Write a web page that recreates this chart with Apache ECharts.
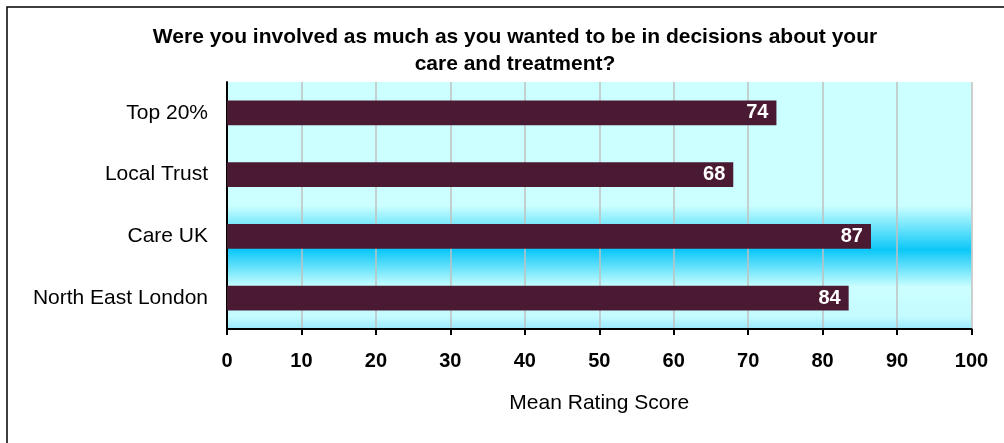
<!DOCTYPE html>
<html>
<head>
<meta charset="utf-8">
<script src="https://cdn.jsdelivr.net/npm/echarts@6/dist/echarts.min.js"></script>
<style>
html,body{margin:0;padding:0;background:#fff;}
#chart{width:1004px;height:443px;}
</style>
</head>
<body>
<div id="chart"></div>
<script>
var titleText = 'Were you involved as much as you wanted to be in decisions about your\ncare and treatment?';
var categories = ['Top 20%', 'Local Trust', 'Care UK', 'North East London'];
var scores = [73.8, 68, 86.5, 83.5];
var xTicks = [0, 10, 20, 30, 40, 50, 60, 70, 80, 90, 100];
var xAxisName = 'Mean Rating Score';

var FONT = '"Liberation Sans", Arial, sans-serif';
var chart = echarts.init(document.getElementById('chart'), null, {renderer: 'canvas'});
chart.setOption({
  animation: false,
  backgroundColor: '#ffffff',
  title: {
    text: titleText,
    left: 510,
    textAlign: 'center',
    top: 19,
    textStyle: {fontFamily: FONT, fontSize: 21, fontWeight: 'bold', color: '#000', lineHeight: 27}
  },
  graphic: [{
    type: 'rect',
    silent: true,
    shape: {x: 7, y: 7, width: 1100, height: 1100},
    style: {fill: 'none', stroke: '#000', lineWidth: 1.5},
    z: 100
  }],
  grid: {
    left: 227, right: 32.5, top: 82, bottom: 114,
    show: true,
    borderWidth: 0,
    backgroundColor: {
      type: 'linear', x: 0, y: 0, x2: 0, y2: 1,
      colorStops: [
        {offset: 0, color: '#ccffff'},
        {offset: 0.5, color: '#ccffff'},
        {offset: 0.68, color: '#0cc8f8'},
        {offset: 0.83, color: '#ccffff'},
        {offset: 0.95, color: '#c4fbff'},
        {offset: 1, color: '#99e8ff'}
      ]
    }
  },
  xAxis: {
    type: 'value',
    min: 0, max: 100, interval: 10,
    name: xAxisName,
    nameLocation: 'middle',
    nameGap: 64,
    nameTextStyle: {fontFamily: FONT, fontSize: 21, color: '#000'},
    axisLine: {show: true, lineStyle: {color: '#000', width: 2}},
    axisTick: {show: true, length: 6, lineStyle: {color: '#000', width: 2}},
    axisLabel: {
      fontFamily: FONT, fontSize: 20, fontWeight: 'bold', color: '#000', margin: 22,
      formatter: function (v) { return xTicks.indexOf(v) >= 0 ? String(v) : ''; }
    },
    splitLine: {show: true, lineStyle: {color: '#c0c0c0', width: 1.5}}
  },
  yAxis: {
    type: 'category',
    data: categories,
    inverse: true,
    axisLine: {show: true, lineStyle: {color: '#000', width: 2}},
    axisTick: {show: false},
    axisLabel: {fontFamily: FONT, fontSize: 21, color: '#000', margin: 19},
    splitLine: {show: false}
  },
  series: [{
    type: 'bar',
    data: scores,
    barCategoryGap: '60%',
    itemStyle: {color: '#4a1a32'},
    label: {
      show: true,
      position: 'insideRight',
      distance: 8,
      fontFamily: FONT, fontSize: 20, fontWeight: 'bold', color: '#fff',
      formatter: function (p) { return Math.round(p.value); }
    }
  }]
});
</script>
</body>
</html>
